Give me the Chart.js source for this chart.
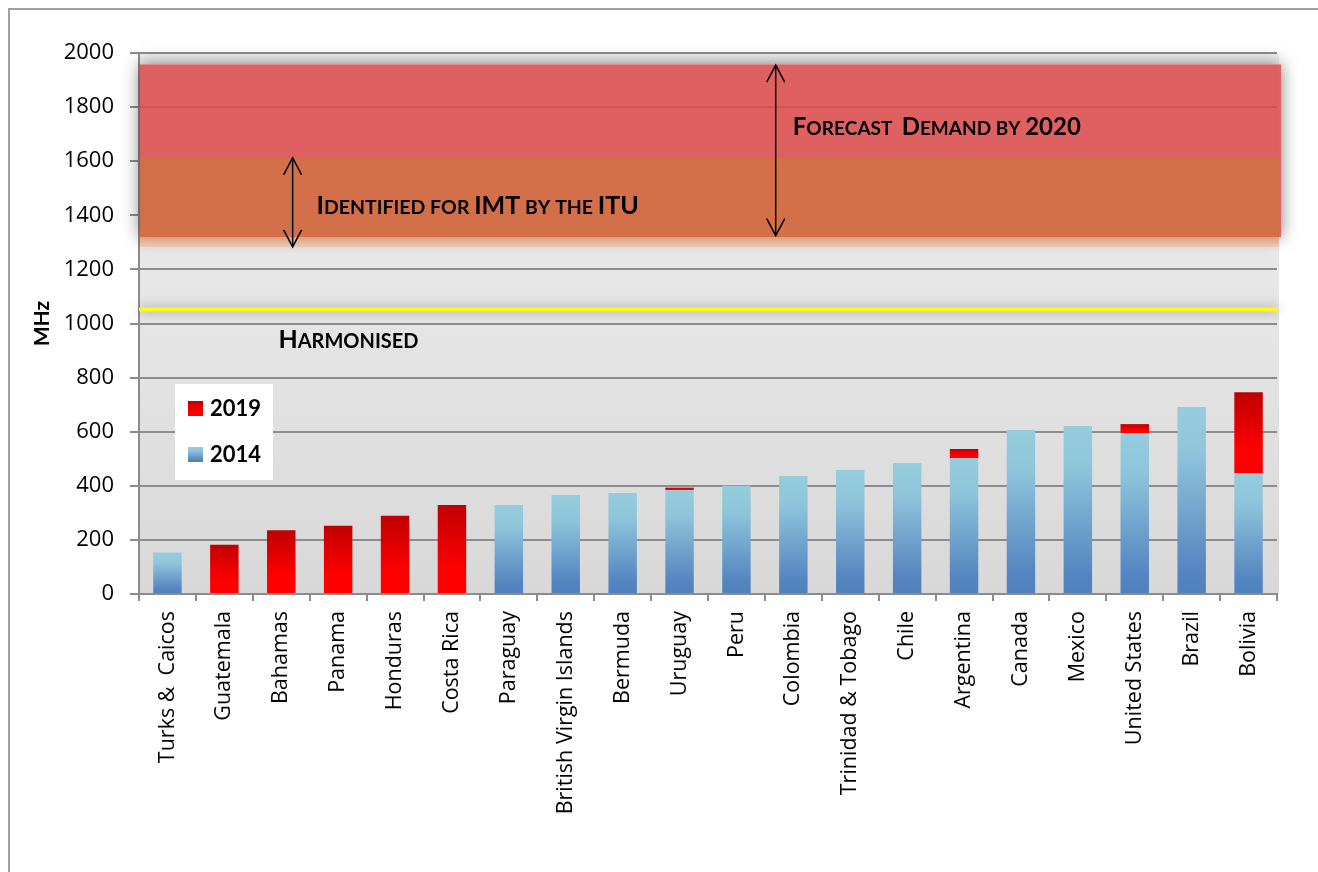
<!DOCTYPE html>
<html><head><meta charset="utf-8">
<script src="https://cdn.jsdelivr.net/npm/chart.js@4.4.1/dist/chart.umd.min.js"></script>
<style>html,body{margin:0;padding:0;background:#fff;overflow:hidden;width:1318px;height:872px}#wrap{width:1318px;height:872px;position:relative;overflow:hidden}canvas{display:block}</style>
</head><body><div id="wrap"><canvas id="c" width="1318" height="872"></canvas></div>
<script>
// ---- data ----
const categories = ['Turks &  Caicos','Guatemala','Bahamas','Panama','Honduras','Costa Rica','Paraguay','British Virgin Islands','Bermuda','Uruguay','Peru','Colombia','Trinidad & Tobago','Chile','Argentina','Canada','Mexico','United States','Brazil','Bolivia'];
const mhz2014 = [153,0,0,0,0,0,329,366,373,384,400,436,458,484,502,606,621,595,691,447];
const mhz2019Added = [0,182,236,252,289,329,0,0,0,9,0,0,0,0,34,0,0,33,0,299];
const seriesLabels = ['2014','2019'];
const yMin = 0, yMax = 2000, yStep = 200;
const bandForecast = [1319, 1958];
const bandIdentified = [1319, 1612];
const bandIdentifiedFade = [1283, 1319];
const harmonisedLevel = 1052;
const arrowIdentified = [1283, 1612];
const arrowForecast = [1325, 1955];
const textIdentified = 'Identified for IMT by the ITU';
const textForecast = 'Forecast  Demand by 2020';
const textHarmonised = 'Harmonised';
const yAxisTitle = 'MHz';

const FAM = 'Lato, "Open Sans", sans-serif';
const TICKFAM = '"Open Sans", sans-serif';

function blueGrad(c, y0, y1){
  const g = c.createLinearGradient(0, y0, 0, y1);
  g.addColorStop(0, '#95cddd'); g.addColorStop(0.25, '#8ec5db');
  g.addColorStop(0.88, '#5485c0'); g.addColorStop(1, '#4f81bd');
  return g;
}
function redGrad(c, y0, y1){
  const g = c.createLinearGradient(0, y0, 0, y1);
  g.addColorStop(0, '#c00000'); g.addColorStop(0.72, '#ff0000'); g.addColorStop(1, '#ff0000');
  return g;
}
function barColor(ctx, ds){
  const chart = ctx.chart; const ys = chart.scales && chart.scales.y;
  const fb = ds === 0 ? '#7aa9d0' : '#e00000';
  if (!chart.chartArea || !ys || ctx.type !== 'data') return fb;
  const i = ctx.dataIndex;
  const base = ds === 0 ? 0 : mhz2014[i];
  const top = base + (ds === 0 ? mhz2014[i] : mhz2019Added[i]);
  const y0 = ys.getPixelForValue(top), y1 = ys.getPixelForValue(base);
  if (!isFinite(y0) || !isFinite(y1) || y0 === y1) return fb;
  return ds === 0 ? blueGrad(chart.ctx, y0, y1) : redGrad(chart.ctx, y0, y1);
}

function drawSmallCaps(c, text, x, y, big, small){
  let cx = x;
  for (const ch of text){
    const lower = ch !== ch.toUpperCase();
    const size = (lower || ch === ' ') ? small : big;
    c.font = `bold ${size}px ${FAM}`;
    const g = lower ? ch.toUpperCase() : ch;
    c.fillText(g, cx, y);
    cx += c.measureText(g).width;
  }
  return cx - x;
}
function drawArrow(c, x, yTop, yBot){
  c.save();
  c.strokeStyle = '#000'; c.lineWidth = 1.5;
  c.beginPath(); c.moveTo(x, yTop); c.lineTo(x, yBot); c.stroke();
  c.beginPath();
  c.moveTo(x - 9, yTop + 17); c.lineTo(x, yTop); c.lineTo(x + 9, yTop + 17);
  c.moveTo(x - 9, yBot - 17); c.lineTo(x, yBot); c.lineTo(x + 9, yBot - 17);
  c.stroke();
  c.restore();
}
// shadow only outside the rect (so translucent fills are not darkened)
function outerShadow(c, x, y, w, h, blur, color){
  c.save();
  c.beginPath();
  c.rect(0, 0, 1318, 872);
  c.rect(x, y, w, h);
  c.clip('evenodd');
  c.shadowColor = color; c.shadowBlur = blur; c.shadowOffsetX = 3000;
  c.fillStyle = '#000';
  c.fillRect(x - 3000, y, w, h);
  c.restore();
}

const decor = {
  id: 'decor',
  beforeDraw(chart){
    const c = chart.ctx, a = chart.chartArea;
    c.save();
    c.strokeStyle = '#a0a0a0'; c.lineWidth = 2;
    c.beginPath(); c.moveTo(9, 872); c.lineTo(9, 9); c.lineTo(1318, 9); c.stroke();
    const g = c.createLinearGradient(0, a.top, 0, a.bottom);
    g.addColorStop(0, '#f2f2f2'); g.addColorStop(1, '#d8d8d8');
    c.fillStyle = g;
    c.fillRect(a.left, a.top, a.right - a.left + 2, a.bottom - a.top);
    c.restore();
  },
  beforeDatasetsDraw(chart){
    const c = chart.ctx, a = chart.chartArea, ys = chart.scales.y;
    const L = a.left + 1;
    c.save();
    let t = ys.getPixelForValue(bandForecast[1]), b = ys.getPixelForValue(bandForecast[0]);
    const Rf = a.right + 4;
    outerShadow(c, L, t, Rf - L, b - t, 16, 'rgba(0,0,0,0.5)');
    c.fillStyle = 'rgba(220,72,73,0.86)';
    c.fillRect(L, t, Rf - L, b - t);
    t = ys.getPixelForValue(bandIdentified[1]); b = ys.getPixelForValue(bandIdentified[0]);
    const Ri = a.right + 2;
    c.fillStyle = 'rgba(211,114,72,0.92)';
    c.fillRect(L, t, Ri - L, b - t);
    t = ys.getPixelForValue(bandIdentifiedFade[1]); b = ys.getPixelForValue(bandIdentifiedFade[0]);
    const fg = c.createLinearGradient(0, t, 0, b);
    fg.addColorStop(0, 'rgba(226,160,118,0.95)'); fg.addColorStop(1, 'rgba(234,196,170,0.7)');
    c.fillStyle = fg; c.fillRect(L, t, Ri - L, b - t);
    const yy = ys.getPixelForValue(harmonisedLevel);
    c.shadowColor = 'rgba(0,0,0,0.45)'; c.shadowBlur = 12;
    c.strokeStyle = '#ffff00'; c.lineWidth = 3.5;
    c.beginPath(); c.moveTo(a.left, yy); c.lineTo(a.right + 1, yy); c.stroke();
    c.restore();
  },
  afterDatasetsDraw(chart){
    const c = chart.ctx, xs = chart.scales.x, ys = chart.scales.y;
    c.save();
    drawArrow(c, xs.getPixelForValue(2.2), ys.getPixelForValue(arrowIdentified[1]), ys.getPixelForValue(arrowIdentified[0]));
    drawArrow(c, xs.getPixelForValue(10.69), ys.getPixelForValue(arrowForecast[1]), ys.getPixelForValue(arrowForecast[0]));
    c.fillStyle = '#000'; c.textBaseline = 'alphabetic'; c.textAlign = 'left';
    drawSmallCaps(c, textForecast, xs.getPixelForValue(10.99), ys.getPixelForValue(1696), 24, 19);
    drawSmallCaps(c, textIdentified, xs.getPixelForValue(2.62), ys.getPixelForValue(1406), 25, 19.5);
    drawSmallCaps(c, textHarmonised, xs.getPixelForValue(1.95), ys.getPixelForValue(908), 25, 20);
    c.restore();
  },
  afterDraw(chart){
    const c = chart.ctx, a = chart.chartArea;
    c.save();
    const bx = a.left + 36, by = 384;
    c.fillStyle = '#fff'; c.fillRect(bx, by, 98, 96);
    const items = [[chart.data.datasets[1].label, redGrad, 401], [chart.data.datasets[0].label, blueGrad, 447]];
    for (const [lab, gf, y] of items){
      c.fillStyle = gf(c, y, y + 15); c.fillRect(bx + 13, y, 15, 15);
      c.fillStyle = '#000'; c.font = `bold 22px ${FAM}`; c.textBaseline = 'middle'; c.textAlign = 'left';
      c.fillText(lab, bx + 35, y + 8);
    }
    c.restore();
  }
};

new Chart(document.getElementById('c'), {
  type: 'bar',
  data: {
    labels: categories,
    datasets: [
      { label: seriesLabels[0], data: mhz2014, backgroundColor: (ctx) => barColor(ctx, 0), borderWidth: 0 },
      { label: seriesLabels[1], data: mhz2019Added, backgroundColor: (ctx) => barColor(ctx, 1), borderWidth: 0 }
    ]
  },
  options: {
    responsive: false, animation: false, devicePixelRatio: 1,
    categoryPercentage: 1, barPercentage: 0.5,
    layout: { padding: { top: 53, right: 41, bottom: 0, left: 0 } },
    plugins: { legend: { display: false }, tooltip: { enabled: false } },
    scales: {
      x: {
        stacked: true,
        grid: { offset: true, drawOnChartArea: false, drawTicks: true, tickLength: 7, color: '#8c8c8c', lineWidth: 2 },
        border: { color: '#8c8c8c', width: 2 },
        ticks: { autoSkip: false, maxRotation: 90, minRotation: 90, padding: 10, color: '#000', font: { family: TICKFAM, size: 21.5 } },
        afterFit(s){ s.height = 278; }
      },
      y: {
        stacked: true, min: yMin, max: yMax,
        ticks: { stepSize: yStep, padding: 16, color: '#000', font: { family: TICKFAM, size: 22 }, callback: (v) => String(v) },
        grid: { color: '#8c8c8c', lineWidth: 2, tickLength: 9 },
        border: { color: '#8c8c8c', width: 2 },
        title: { display: true, text: yAxisTitle, color: '#000', font: { family: FAM, size: 21, weight: 'bold' }, padding: { top: 30, bottom: 0 } },
        afterFit(s){ s.width = 139; }
      }
    }
  },
  plugins: [decor]
});
</script></body></html>
